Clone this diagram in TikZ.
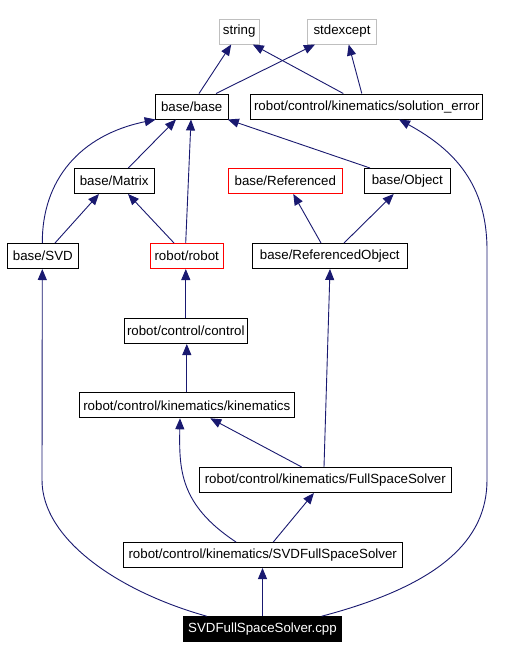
\documentclass[tikz,border=0pt]{standalone}
\usepackage{fontspec}
\setmainfont{Liberation Sans}
\usetikzlibrary{arrows.meta}
\definecolor{edgeblue}{HTML}{191970}
\definecolor{greyline}{HTML}{BFBFBF}
\definecolor{redline}{HTML}{FF0000}
\begin{document}
\begin{tikzpicture}[x=1pt,y=-1pt,
  box/.style={draw=black, line width=1pt, fill=white, inner sep=0pt, minimum height=25pt, font=\fontsize{13.3}{16}\selectfont, text=black},
  greybox/.style={box, draw=greyline},
  redbox/.style={box, draw=redline},
  cppbox/.style={box, fill=black, text=white, draw=black},
  dep/.style={draw=edgeblue, line width=0.9pt, -{Triangle[length=11pt,width=9pt]}, fill=none},
]
\useasboundingbox[fill=white] (0,0) rectangle (507,659);
% nodes
\node[greybox, minimum width=39.7pt] (string) at (239.2,31.5) {string};
\node[greybox, minimum width=69.4pt] (stdexcept) at (342,31.5) {stdexcept};
\node[box, minimum width=73.3pt] (bbase) at (191.7,106.5) {base/base};
\node[box, minimum width=231.7pt] (solerr) at (366.8,106.5) {robot/control/kinematics/solution\_error};
\node[box, minimum width=80.3pt] (matrix) at (114.2,181) {base/Matrix};
\node[redbox, minimum width=114pt] (refd) at (285.3,181) {base/Referenced};
\node[box, minimum width=86pt] (obj) at (407.3,181) {base/Object};
\node[box, minimum width=71pt] (svd) at (42.8,256) {base/SVD};
\node[redbox, minimum width=72.7pt] (robot) at (186.7,256) {robot/robot};
\node[box, minimum width=155pt] (refobj) at (329.8,256) {base/ReferencedObject};
\node[box, minimum width=123pt] (ctrl) at (185.8,331) {robot/control/control};
\node[box, minimum width=215pt] (kin) at (186.8,405.3) {robot/control/kinematics/kinematics};
\node[box, minimum width=252pt] (fss) at (325.3,480) {robot/control/kinematics/FullSpaceSolver};
\node[box, minimum width=278.7pt] (svdfss) at (262.7,555) {robot/control/kinematics/SVDFullSpaceSolver};
\node[cppbox, minimum width=158.4pt] (cpp) at (262.5,629.2) {SVDFullSpaceSolver.cpp};
% edges
\draw[dep] ([xshift=7.3pt]bbase.north) -- ([xshift=-8pt]string.south);
\draw[dep] ([xshift=24.3pt]bbase.north) -- ([xshift=-27pt]stdexcept.south);
\draw[dep] ([xshift=-23.5pt]solerr.north) -- ([xshift=13.6pt]string.south);
\draw[dep] ([xshift=-5pt]solerr.north) -- ([xshift=6.7pt]stdexcept.south);
\draw[dep] ([xshift=14.1pt]matrix.north) -- ([xshift=-15.7pt]bbase.south);
\draw[dep] ([xshift=-0.5pt]svd.north) .. controls (42,180) and (80,135) .. ([xshift=-36pt]bbase.south);
\draw[dep] ([xshift=-1pt]robot.north) -- ([xshift=-0.7pt]bbase.south);
\draw[dep] ([xshift=-37.3pt]obj.north) -- ([xshift=-1pt]bbase.south east);
\draw[dep] ([xshift=12.2pt]svd.north) -- ([xshift=-15.2pt]matrix.south);
\draw[dep] ([xshift=-12.7pt]robot.north) -- ([xshift=13.8pt]matrix.south);
\draw[dep] ([xshift=-8.8pt]refobj.north) -- ([xshift=8pt]refd.south);
\draw[dep] ([xshift=14.2pt]refobj.north) -- ([xshift=-13.6pt]obj.south);
\draw[dep] (ctrl.north) -- (ctrl.north |- robot.south);
\draw[dep] (kin.north) -- (kin.north |- ctrl.south);
\draw[dep] ([xshift=-23.6pt]fss.north) -- ([xshift=23.5pt]kin.south);
\draw[dep] ([xshift=-1.3pt]fss.north) -- ([xshift=0.2pt]refobj.south);
\draw[dep] ([xshift=-26.7pt]svdfss.north) .. controls (180,505) and (179,470) .. ([xshift=-6.8pt]kin.south);
\draw[dep] ([xshift=10.6pt]svdfss.north) -- ([xshift=-11.4pt]fss.south);
\draw[dep] (cpp.north) -- (cpp.north |- svdfss.south);
\draw[dep] ([xshift=-55.8pt]cpp.north) .. controls (120,592) and (42,540) .. (42,480) -- ([xshift=-0.5pt]svd.south);
\draw[dep] ([xshift=59.2pt]cpp.north) .. controls (440,585) and (487,540) .. (487,480) -- (487,250) .. controls (487,185) and (455,150) .. ([xshift=32.2pt]solerr.south);
\end{tikzpicture}
\end{document}
